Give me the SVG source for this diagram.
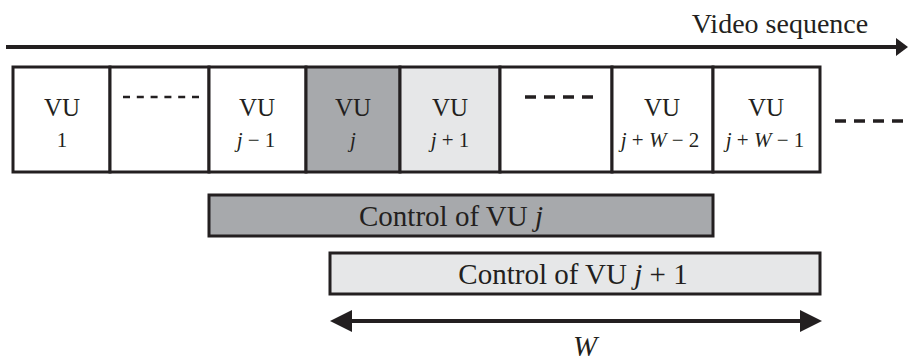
<svg xmlns="http://www.w3.org/2000/svg" width="908" height="361" viewBox="0 0 908 361">
<defs>
<style>
.box{stroke:#231f20;stroke-width:3}
.w{fill:#ffffff}
.d{fill:#a7a9ac}
.l{fill:#e6e7e8}
text{font-family:"Liberation Serif","Times New Roman",Times,"DejaVu Serif",serif;fill:#231f20;text-anchor:middle}
.vu{font-size:25px}
.n{font-size:21px}
.i{font-style:italic}
.lab{font-size:29px}
.dash{stroke:#231f20;fill:none}
.ah{fill:#231f20}
</style>
</defs>
<g id="connectors">
<line x1="6" y1="47" x2="898" y2="47" stroke="#231f20" stroke-width="4"/>
<path class="ah" d="M896,38 L908,47 L896,56 Z"/>
<line x1="348" y1="321" x2="804" y2="321" stroke="#231f20" stroke-width="4"/>
<path class="ah" d="M330,321 L352,310 L352,332 Z"/>
<path class="ah" d="M822,321 L800,310 L800,332 Z"/>
</g>
<text x="780" y="33" class="lab" style="font-size:28px">Video sequence</text>
<g id="vu1"><rect class="box w" x="13" y="67" width="97" height="105"/><text class="vu" x="62" y="116">VU</text><text class="n" x="62" y="147">1</text></g>
<g id="gap1"><rect class="box w" x="110" y="67" width="99" height="105"/><line class="dash" x1="123" y1="97" x2="199" y2="97" stroke-width="2.5" stroke-dasharray="7,6.8"/></g>
<g id="vujm1"><rect class="box w" x="209" y="67" width="97" height="105"/><text class="vu" x="257" y="116">VU</text><text class="n" x="256" y="147"><tspan class="i">j</tspan> − 1</text></g>
<g id="vuj"><rect class="box d" x="306" y="67" width="94" height="105"/><text class="vu" x="353" y="116">VU</text><text class="n i" x="353" y="147">j</text></g>
<g id="vujp1"><rect class="box l" x="400" y="67" width="100" height="105"/><text class="vu" x="450" y="116">VU</text><text class="n" x="450" y="147"><tspan class="i">j</tspan> + 1</text></g>
<g id="gap2"><rect class="box w" x="500" y="67" width="112" height="105"/><line class="dash" x1="525" y1="97" x2="594" y2="97" stroke-width="3.5" stroke-dasharray="11,8"/></g>
<g id="vujw2"><rect class="box w" x="612" y="67" width="101" height="105"/><text class="vu" x="662" y="116">VU</text><text class="n" x="660" y="147"><tspan class="i">j</tspan> + <tspan class="i">W</tspan> − 2</text></g>
<g id="vujw1"><rect class="box w" x="713" y="67" width="107" height="105"/><text class="vu" x="766" y="116">VU</text><text class="n" x="765" y="147"><tspan class="i">j</tspan> + <tspan class="i">W</tspan> − 1</text></g>
<line class="dash" x1="835" y1="121" x2="908" y2="121" stroke-width="3.5" stroke-dasharray="11,8"/>
<g id="ctrlj"><rect class="box d" x="209" y="195" width="504" height="41"/><text class="lab" x="451" y="226">Control of VU <tspan class="i">j</tspan></text></g>
<g id="ctrljp1"><rect class="box l" x="330" y="253" width="490" height="41"/><text class="lab" x="573" y="284">Control of VU <tspan class="i">j</tspan> + 1</text></g>
<text class="lab i" x="585" y="356">W</text>
</svg>
